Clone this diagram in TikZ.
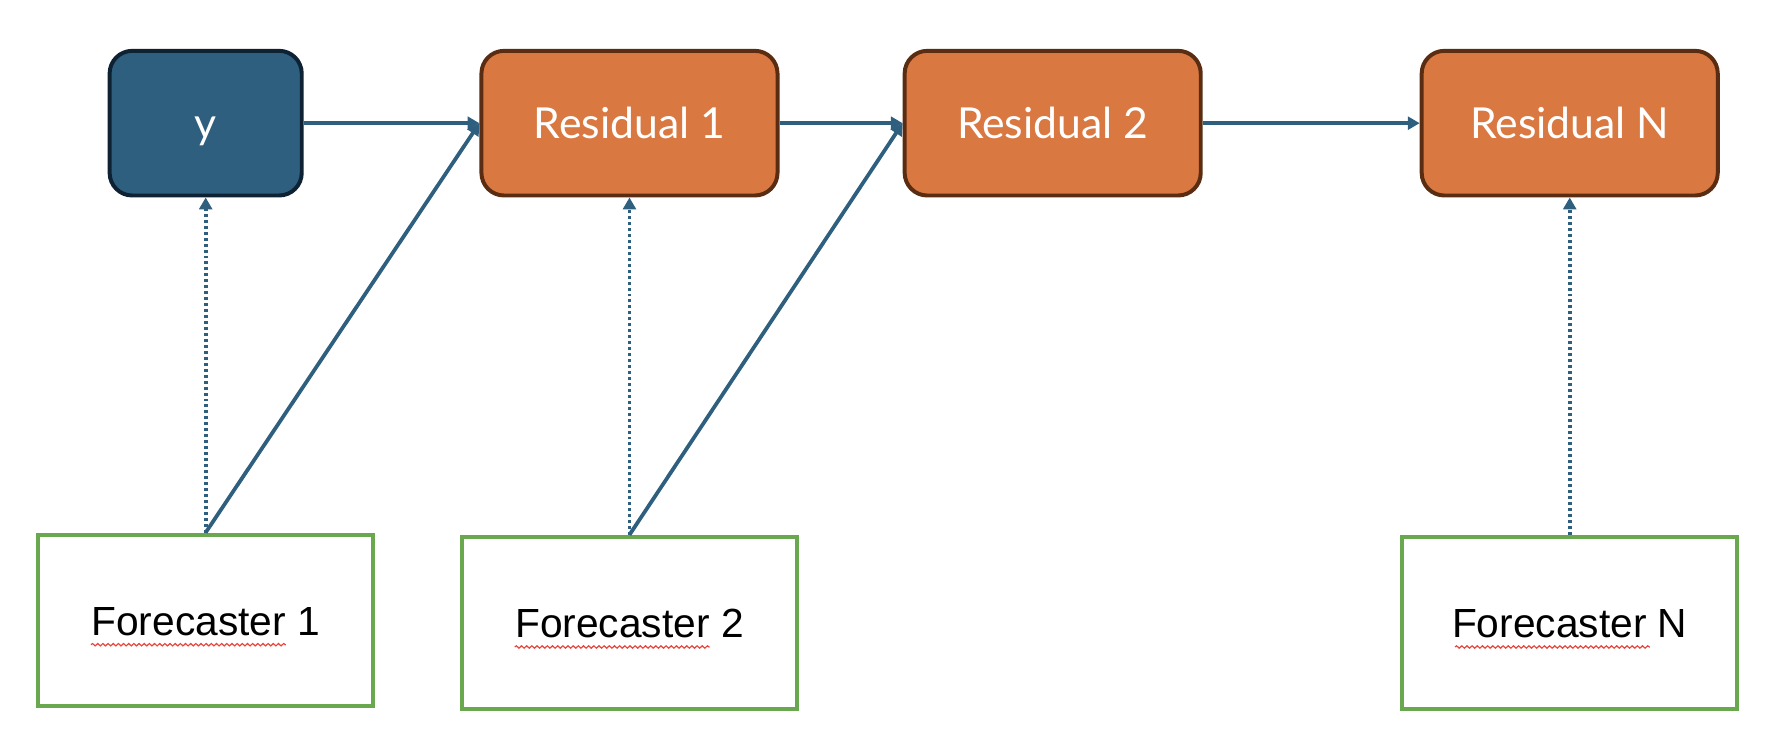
\documentclass[tikz,border=0pt]{standalone}
\usepackage{fontspec}
\setmainfont{Liberation Sans}
\newfontfamily\boxfont{Lato}
\usetikzlibrary{positioning}
\usetikzlibrary{arrows.meta,calc,decorations.pathmorphing}
\definecolor{ydark}{HTML}{2E5F7E}
\definecolor{yborder}{HTML}{0E2233}
\definecolor{resfill}{HTML}{DA7842}
\definecolor{resborder}{HTML}{5A2D12}
\definecolor{fgreen}{HTML}{6AA84F}
\definecolor{squig}{HTML}{E8453C}

\begin{document}
\begin{tikzpicture}[
  every node/.style = {align=center, inner sep=0pt},
  target/.style = {shape=rectangle, rounded corners=0.4cm, line width=2pt,
    minimum height=2.56cm, text=white, text height=19.4pt, text depth=4pt,
    font=\boxfont\fontsize{21.5}{26}\selectfont},
  ybox/.style = {target, draw=yborder, fill=ydark, minimum width=3.4cm},
  resbox/.style = {target, draw=resborder, fill=resfill, minimum width=5.24cm},
  fcbox/.style = {shape=rectangle, draw=fgreen, line width=2pt,
    minimum width=5.92cm, minimum height=3.04cm, text height=18.7pt, text depth=4pt,
    font=\fontsize{20.5}{24}\selectfont},
  link/.style = {draw=ydark, line width=1.9pt, -{Triangle[length=6pt,width=6.5pt]}},
  fit link/.style = {link, dash pattern=on 1.5pt off 1.5pt}
  ]
  \useasboundingbox (0,0) rectangle (31.36,-13.06);
  % top row
  \node[ybox]   (y)  at (3.64,-2.18)  {y};
  \node[resbox] (r1) at (11.14,-2.18) {Residual 1};
  \node[resbox] (r2) at (18.63,-2.18) {Residual 2};
  \node[resbox] (rN) at (27.78,-2.18) {Residual N};
  % forecasters
  \node[fcbox] (f1) at (3.64,-10.98)  {Forecaster 1};
  \node[fcbox] (f2) at (11.14,-11.02) {Forecaster 2};
  \node[fcbox] (fN) at (27.78,-11.02) {Forecaster N};
  % residual chain
  \draw[link] (y) -- (r1);
  \draw[link] (r1) -- (r2);
  \draw[link] (r2) -- (rN);
  % fitted and residual links
  \draw[fit link] (f1.north) -- (y.south);
  \draw[fit link] (f2.north) -- (r1.south);
  \draw[fit link] (fN.north) -- (rN.south);
  \draw[link] (f1.north) -- (r1.west);
  \draw[link] (f2.north) -- (r2.west);
  % spell check marks
  \foreach \f in {f1,f2,fN}
    \draw[squig, line width=0.6pt, decorate,
      decoration={snake, amplitude=0.6pt, segment length=2.6pt}]
      ($(\f.center)+(-2.03,-0.43)$) -- ++(3.45,0);
\end{tikzpicture}
\end{document}
